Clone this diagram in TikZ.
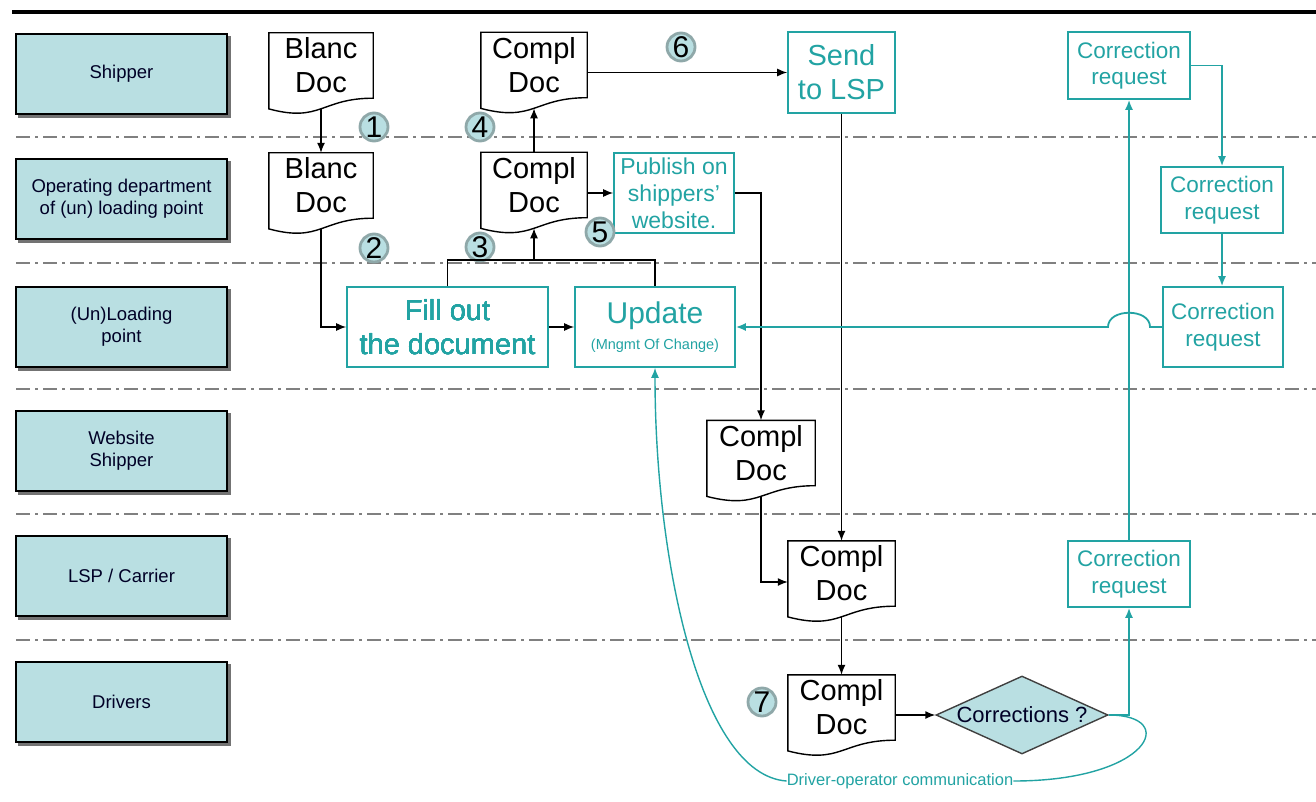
\documentclass[tikz,border=0pt]{standalone}
\usepackage{fontspec}
\setmainfont{Liberation Sans}
\usetikzlibrary{arrows.meta,shapes.geometric,calc}
\definecolor{lanefill}{HTML}{B9DFE2}
\definecolor{tealc}{HTML}{22A3A3}
\definecolor{numring}{HTML}{8FA8A9}
\definecolor{sepgray}{HTML}{808080}
\newcommand{\fs}[1]{\fontsize{#1pt}{\dimexpr #1pt*118/100\relax}\selectfont}
% document shape below a node: wavy bottom edge
\newcommand{\docwave}[1]{%
  \draw[line width=1.4] (#1.south west) -- (#1.north west) -- (#1.north east) -- (#1.south east)
    .. controls (#1.south) and ($(#1.south)+(0,24.7)$) .. ($(#1.south west)+(0,10.7)$) -- cycle;
  \coordinate (#1-b) at ($(#1.south)+(0,10.6)$);}
\begin{document}
\begin{tikzpicture}[x=1pt,y=-1pt]
	\tikzset{>={Latex[length=10pt,width=8pt]}}
	\tikzset{lane/.style={draw=black, line width=1.2, fill=lanefill, minimum width=211, minimum height=80,
		align=center, font=\fs{18.5}, text=black!85!blue,
		preaction={draw=black!55, fill=black!55, line width=2, transform canvas={shift={(2.5pt,-3pt)}}}},
		doc/.style={minimum height=65, inner sep=0, align=center, font=\fs{29}},
		tbox/.style={draw=tealc, line width=1.6, align=center, text=tealc, inner sep=0},
		num/.style={circle, fill=lanefill, draw=numring, line width=2.8, minimum size=28, inner sep=0, font=\fs{30}},
		conn/.style={->, line width=1.4},
		tconn/.style={->, draw=tealc, line width=1.8},
		sep/.style={sepgray, line width=1.4, dash pattern=on 14pt off 5pt on 3pt off 5pt}}
	\useasboundingbox (0,0) rectangle (1316,802);
	\draw [line width=4] (12,12) -- (1316,12);
	\foreach \y in {137,263,389,514,640}
		\draw [sep] (16,\y) -- (1316,\y);
	% lanes
	\node [lane] (shipper) at (121.5,74) {Shipper};
	\node [lane] (operating) at (121.5,199) {Operating department\\of (un) loading point};
	\node [lane] (loading) at (121.5,327) {(Un)Loading\\point};
	\node [lane] (website) at (121.5,451) {Website\\Shipper};
	\node [lane] (carrier) at (121.5,576) {LSP / Carrier};
	\node [lane] (drivers) at (121.5,702) {Drivers};
	% documents
	\node [doc, minimum width=104] (blanc1) at (321,65.5) {Blanc\\Doc};
	\node [doc, minimum width=104] (blanc2) at (321,185.5) {Blanc\\Doc};
	\node [doc, minimum width=106] (compl1) at (534,65) {Compl\\Doc};
	\node [doc, minimum width=106] (compl2) at (534,185) {Compl\\Doc};
	\node [doc, minimum width=108] (complw) at (761,453) {Compl\\Doc};
	\node [doc, minimum width=107] (compll) at (841.5,573.5) {Compl\\Doc};
	\node [doc, minimum width=107] (compld) at (841.5,707.5) {Compl\\Doc};
	\foreach \d in {blanc1,blanc2,compl1,compl2,complw,compll,compld}
		\docwave{\d}
	% process boxes
	\node [tbox, minimum width=201, minimum height=80, font=\fs{29}] (filldoc) at (447.5,327) {Fill out\\the document};
	\node [tbox, minimum width=160, minimum height=80, font=\fs{30}] (update) at (655,327)
		{Update\\[-9pt]{\fs{14.5}(Mngmt Of Change)}};
	\node [tbox, minimum width=120, minimum height=80, font=\fs{23}] (publish) at (674,193) {Publish on\\shippers'\\website.};
	\node [tbox, minimum width=107, minimum height=81, font=\fs{29}] (send) at (841.5,72.5) {Send\\to LSP};
	\node [tbox, minimum width=122, minimum height=67, font=\fs{22.5}] (cr1) at (1129,65.5) {Correction\\request};
	\node [tbox, minimum width=122, minimum height=66, font=\fs{22.5}] (cr2) at (1222,200) {Correction\\request};
	\node [tbox, minimum width=120, minimum height=80, font=\fs{22.5}] (cr3) at (1223,327) {Correction\\request};
	\node [tbox, minimum width=122, minimum height=66, font=\fs{22.5}] (cr4) at (1129,574) {Correction\\request};
	\node [diamond, draw=black!75, line width=1.4, fill=lanefill, minimum width=172, minimum height=78, inner sep=0] (dia) at (1022,715) {};
	\node [font=\fs{22}, text=black!85!blue] at (dia.center) {Corrections ?};
	\node [inner sep=0, text=tealc, font=\fs{16.5}] (comm) at (900,781) {Driver-operator communication};
	% step numbers
	\node [num] (n1) at (374,127) {1};
	\node [num] (n2) at (374,248) {2};
	\node [num] (n3) at (480,247) {3};
	\node [num] (n4) at (480,127) {4};
	\node [num] (n5) at (600,232) {5};
	\node [num] (n6) at (681,47) {6};
	\node [num] (n7) at (762,702) {7};
	% connectors
	\coordinate (split) at (534,260);
	\draw [conn] (blanc1-b) -- (blanc2.north);
	\draw [conn] (blanc2-b) |- (filldoc.west);
	\draw [line width=1.4] (filldoc.north) |- (split) -| (update.north);
	\draw [conn] (split) -- (compl2-b);
	\draw [conn] (compl2.north) -- (compl1-b);
	\draw [conn] (compl1.east |- send.west) -- (send.west);
	\draw [conn] (compl2.east |- publish.west) -- (publish.west);
	\draw [conn] (publish.east) -| (complw.north);
	\draw [conn] (filldoc.east) -- (update.west);
	\draw [conn] (send.south) -- (compll.north);
	\draw [conn] (complw-b) |- ([yshift=-8.5pt]compll.west);
	\draw [conn] (compll-b) -- (compld.north);
	\draw [conn] (compld.east |- dia.west) -- (dia.west);
	\coordinate (hop) at (cr1.south |- cr3.west);
	\draw [tconn] (dia.east) -| (cr4.south);
	\draw [tconn] (cr4.north) -- (cr1.south);
	\draw [tconn] (cr1.east) -| (cr2.north);
	\draw [tconn] (cr2.south) -- (cr2.south |- cr3.north);
	\draw [tconn] (cr3.west) -- ($(hop)+(21,0)$) .. controls ($(hop)+(21,-19)$) and ($(hop)+(-21,-19)$) .. ($(hop)+(-21,0)$) -- (update.east);
	\draw [tealc, line width=1.4] (dia.east) .. controls (1180,715) and (1150,781) .. (comm.east);
	\draw [tconn, line width=1.4] (comm.west) .. controls (700,775) and (655,560) .. (update.south);
\end{tikzpicture}
\end{document}
